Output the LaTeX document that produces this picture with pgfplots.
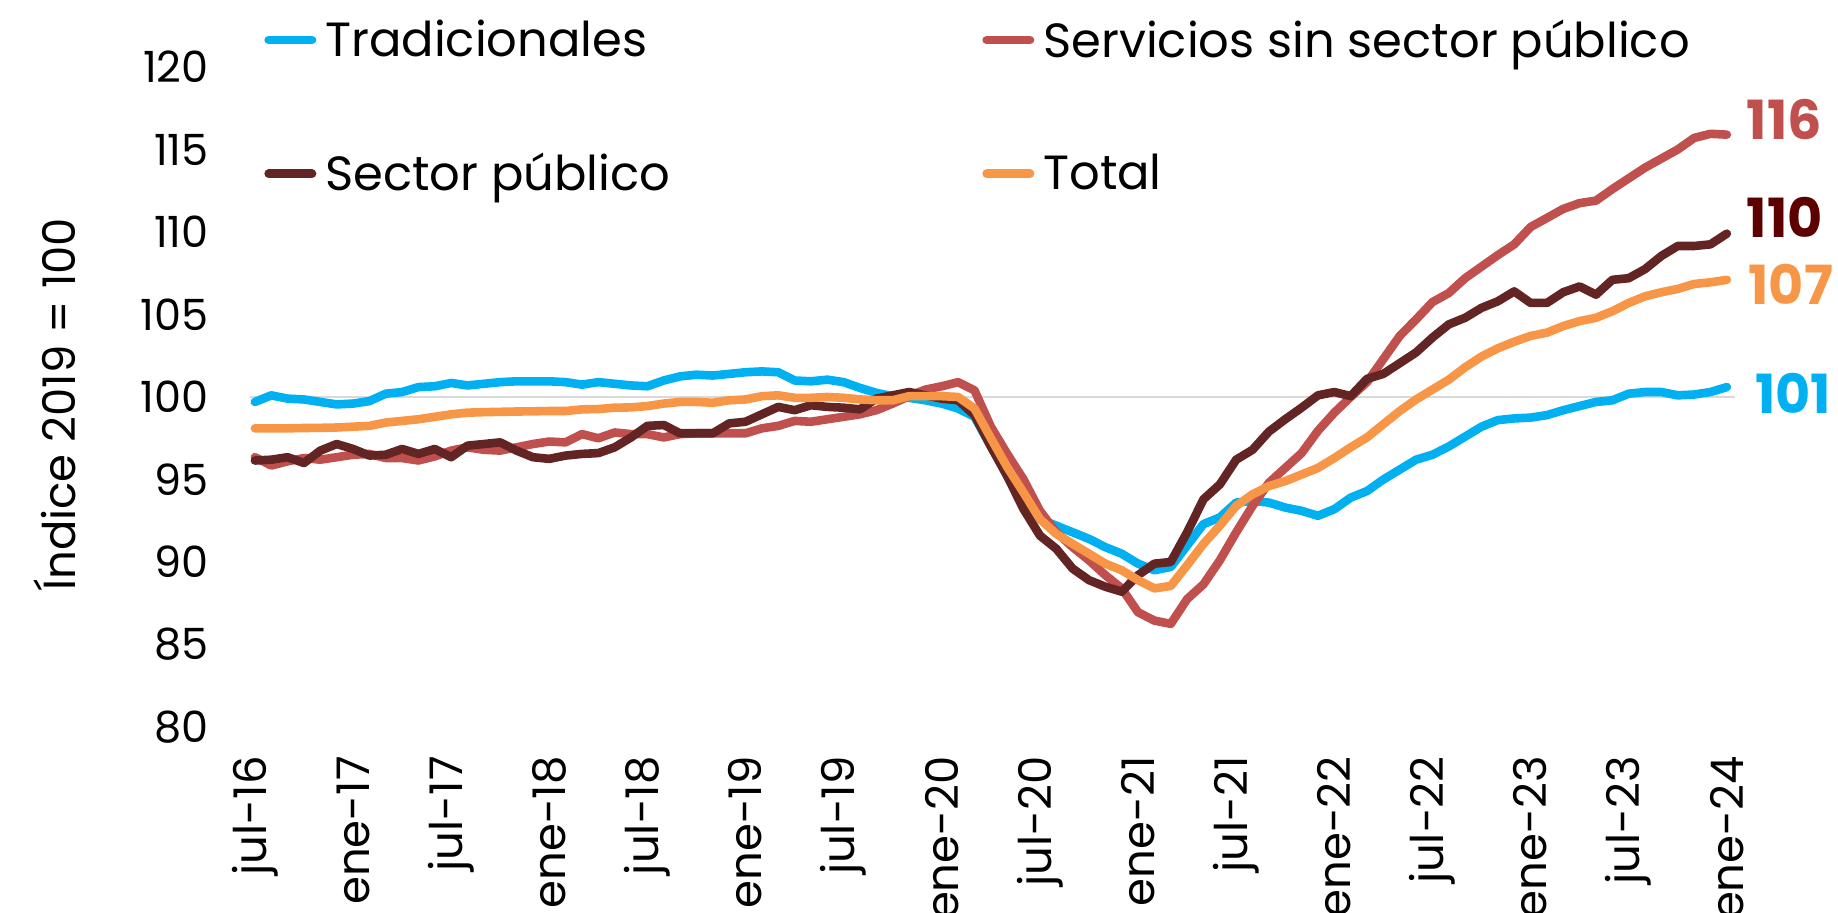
\documentclass[border=0pt]{standalone}
\usepackage{pgfplots}
\pgfplotsset{compat=1.18}
\usepackage{pgfplotstable}
\usepackage{fontspec}
\setmainfont{Poppins}
\definecolor{ctrad}{HTML}{00B0F0}
\definecolor{cserv}{HTML}{C0504D}
\definecolor{cpub}{HTML}{632523}
\definecolor{ctot}{HTML}{F79646}
\definecolor{cpublab}{HTML}{5C0000}
\definecolor{cgrid}{HTML}{D9D9D9}
\newcommand\lgA[1]{\makebox[333pt][l]{\hspace{4.5pt}#1}}
\newcommand\lgB[1]{\hspace{4.5pt}#1}
\pgfplotstableread{
i trad serv pub tot
0 99.7 96.35 96.15 98.1
1 100.1 95.85 96.2 98.1
2 99.9 96.1 96.35 98.1
3 99.85 96.3 96.0 98.12
4 99.7 96.2 96.75 98.13
5 99.55 96.35 97.15 98.15
6 99.6 96.5 96.85 98.2
7 99.75 96.55 96.45 98.25
8 100.2 96.3 96.5 98.45
9 100.3 96.3 96.85 98.55
10 100.6 96.15 96.55 98.65
11 100.65 96.4 96.85 98.8
12 100.85 96.75 96.35 98.95
13 100.7 96.95 97.05 99.05
14 100.8 96.8 97.15 99.08
15 100.9 96.75 97.25 99.1
16 100.95 96.95 96.75 99.12
17 100.95 97.15 96.35 99.13
18 100.95 97.3 96.25 99.15
19 100.9 97.25 96.45 99.15
20 100.75 97.75 96.55 99.25
21 100.9 97.5 96.6 99.27
22 100.8 97.85 96.95 99.35
23 100.7 97.75 97.55 99.37
24 100.65 97.75 98.25 99.45
25 101.0 97.55 98.3 99.6
26 101.25 97.75 97.8 99.7
27 101.35 97.8 97.8 99.7
28 101.3 97.8 97.8 99.65
29 101.4 97.8 98.4 99.8
30 101.5 97.8 98.5 99.85
31 101.55 98.1 98.95 100.05
32 101.5 98.25 99.4 100.1
33 101.0 98.55 99.2 99.95
34 100.95 98.5 99.5 99.95
35 101.05 98.65 99.4 100.0
36 100.9 98.8 99.35 99.95
37 100.55 98.95 99.25 99.85
38 100.25 99.2 99.9 99.8
39 100.05 99.6 100.1 99.8
40 99.95 100.05 100.3 100.05
41 99.8 100.45 100.1 100.05
42 99.6 100.65 99.9 100.05
43 99.3 100.9 99.8 100.0
44 98.8 100.4 98.9 99.3
45 97.0 98.2 97.0 97.5
46 95.3 96.55 95.2 95.75
47 93.8 95.0 93.2 94.2
48 92.6 93.1 91.6 92.6
49 92.2 91.8 90.8 91.7
50 91.8 90.9 89.6 91.1
51 91.4 90.1 88.9 90.5
52 90.9 89.2 88.5 89.9
53 90.5 88.4 88.2 89.5
54 89.9 86.95 89.2 88.9
55 89.5 86.45 89.9 88.4
56 89.7 86.25 90.0 88.55
57 91.0 87.75 91.8 89.8
58 92.3 88.65 93.8 91.1
59 92.7 90.1 94.7 92.2
60 93.6 91.8 96.2 93.4
61 93.7 93.4 96.8 94.1
62 93.6 94.8 97.9 94.6
63 93.3 95.7 98.65 94.9
64 93.1 96.6 99.35 95.3
65 92.8 97.95 100.1 95.7
66 93.2 99.05 100.3 96.3
67 93.9 100.0 100.05 96.95
68 94.3 100.9 101.1 97.55
69 95.0 102.3 101.4 98.35
70 95.6 103.7 102.05 99.15
71 96.2 104.7 102.7 99.85
72 96.5 105.75 103.6 100.45
73 97.0 106.3 104.4 101.05
74 97.6 107.2 104.8 101.8
75 98.2 107.9 105.4 102.45
76 98.6 108.6 105.8 102.95
77 98.7 109.25 106.4 103.35
78 98.75 110.3 105.7 103.7
79 98.9 110.85 105.7 103.9
80 99.2 111.4 106.35 104.3
81 99.45 111.75 106.7 104.6
82 99.7 111.9 106.2 104.8
83 99.8 112.6 107.1 105.2
84 100.2 113.25 107.2 105.7
85 100.3 113.9 107.75 106.1
86 100.3 114.45 108.55 106.35
87 100.1 115.0 109.15 106.55
88 100.15 115.7 109.15 106.85
89 100.3 115.95 109.25 106.95
90 100.6 115.9 109.9 107.1
}\data
\begin{document}
\begin{tikzpicture}
\path[use as bounding box] (-125pt,-93pt) rectangle (794pt,363.5pt);
\begin{axis}[
  scale only axis, width=742.5pt, height=330pt,
  xmin=-0.3, xmax=90.5, ymin=80, ymax=120,
  ytick={80,85,...,120},
  xtick={0,6,...,90},
  xticklabels={jul-16,ene-17,jul-17,ene-18,jul-18,ene-19,jul-19,ene-20,jul-20,ene-21,jul-21,ene-22,jul-22,ene-23,jul-23,ene-24},
  axis line style={draw=none},
  major tick length=0pt,
  tick style={draw=none},
  /pgf/number format/assume math mode=true,
  yticklabel style={anchor=east, inner sep=0pt, font=\fontsize{21.5}{26}\selectfont},
  yticklabel shift=20.5pt,
  xticklabel style={rotate=90, anchor=east, inner sep=0pt, font=\fontsize{22.5}{26}\selectfont},
  xticklabel shift=14.5pt,
  ylabel={Índice 2019 = 100},
  ylabel style={at={(axis description cs:-0.1313,0.489)}, anchor=center, font=\fontsize{22.5}{26}\selectfont},
  extra y ticks={100}, extra y tick labels={},
  extra y tick style={grid=major, major grid style={color=cgrid, line width=1.2pt}},
  legend columns=2,
  legend cell align=left,
  legend style={draw=none, fill=none, at={(axis description cs:0.0094,1.072)}, anchor=north west,
    font=\fontsize{24}{28}\selectfont, inner sep=0pt, column sep=0pt, row sep=46.5pt,
    nodes={inner sep=0pt}},
  legend image code/.code={\draw[#1, line width=4.3pt, line cap=round] (2.15pt,0pt) -- (23.85pt,0pt);},
  clip=false,
  serie/.style={line width=4.3pt, line join=round, line cap=round, no markers},
]
\addplot[serie, ctrad] table[x=i, y=trad] {\data};
\addlegendentry{\lgA{Tradicionales}}
\addplot[serie, cserv] table[x=i, y=serv] {\data};
\addlegendentry{\lgB{Servicios sin sector público}}
\addplot[serie, cpub] table[x=i, y=pub] {\data};
\addlegendentry{\lgA{Sector público}}
\addplot[serie, ctot] table[x=i, y=tot] {\data};
\addlegendentry{\lgB{Total}}
\node[anchor=west, inner sep=0pt, text=cserv, font=\bfseries\fontsize{27}{30}\selectfont] at (axis cs:91.2,116.8) {116};
\node[anchor=west, inner sep=0pt, text=cpublab, font=\bfseries\fontsize{27}{30}\selectfont] at (axis cs:91.2,110.9) {110};
\node[anchor=west, inner sep=0pt, text=ctot, font=\bfseries\fontsize{27}{30}\selectfont] at (axis cs:91.3,106.85) {107};
\node[anchor=west, inner sep=0pt, text=ctrad, font=\bfseries\fontsize{27}{30}\selectfont] at (axis cs:91.7,100.2) {101};
\end{axis}
\end{tikzpicture}
\end{document}
